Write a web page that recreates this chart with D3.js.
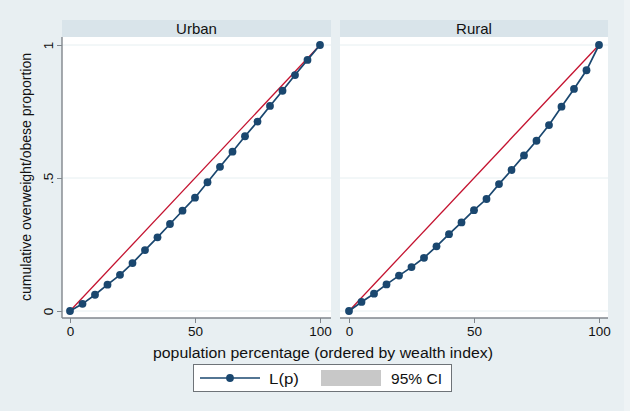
<!DOCTYPE html>
<html>
<head>
<meta charset="utf-8">
<script src="https://cdn.jsdelivr.net/npm/d3@7"></script>
<style>
  html, body { margin: 0; padding: 0; background: #e8eff2; }
  svg { display: block; font-family: "Liberation Sans", Arial, sans-serif; }
</style>
</head>
<body>
<svg id="chart" width="630" height="411"></svg>
<script>
// ---- data ----
const pct = [0, 5, 10, 15, 20, 25, 30, 35, 40, 45, 50, 55, 60, 65, 70, 75, 80, 85, 90, 95, 100];
const urban = [0, 0.027, 0.061, 0.099, 0.136, 0.180, 0.229, 0.277, 0.327, 0.377, 0.426, 0.484, 0.542, 0.599, 0.657, 0.712, 0.771, 0.828, 0.887, 0.944, 1];
const rural = [0, 0.034, 0.065, 0.100, 0.133, 0.165, 0.200, 0.243, 0.289, 0.333, 0.379, 0.421, 0.477, 0.530, 0.585, 0.640, 0.699, 0.768, 0.835, 0.905, 1];
const panels = ["Urban", "Rural"];
const xTicks = [0, 50, 100];
const yTicks = [0, 0.5, 1];
const yTickLabels = ["0", ".5", "1"];
const equality = [[0, 0], [100, 1]];
const legendLabels = ["L(p)", "95% CI"];

const series = { Urban: urban, Rural: rural };

const svg = d3.select("#chart");
const W = 630, H = 411;

const colors = {
  bg: "#e8eff2",
  strip: "#d9e4ea",
  grid: "#e6eff1",
  axis: "#80868c",
  navy: "#1a476f",
  red: "#c4122f",
  text: "#111"
};

svg.append("rect").attr("width", W).attr("height", H).attr("fill", colors.bg);
svg.append("rect").attr("x", 624).attr("y", 0).attr("width", 6).attr("height", H).attr("fill", "#eef3f5");

const panelBoxes = [
  { x0: 62, x1: 331, px0: 70, px1: 320 },
  { x0: 340, x1: 608, px0: 349, px1: 599 }
];
const stripTop = 20, stripBot = 37, plotBot = 318;
const y = d3.scaleLinear().domain([0, 1]).range([311, 45]);

panels.forEach((name, i) => {
  const b = panelBoxes[i];
  const x = d3.scaleLinear().domain([0, 100]).range([b.px0, b.px1]);
  const g = svg.append("g");

  // strip
  g.append("rect").attr("x", b.x0).attr("y", stripTop).attr("width", b.x1 - b.x0)
    .attr("height", stripBot - stripTop).attr("fill", colors.strip);
  g.append("text").attr("x", (b.x0 + b.x1) / 2).attr("y", 33.5).attr("text-anchor", "middle")
    .attr("font-size", 15).attr("fill", colors.text).text(name);

  // plot region
  g.append("rect").attr("x", b.x0).attr("y", stripBot).attr("width", b.x1 - b.x0)
    .attr("height", plotBot - stripBot).attr("fill", "#fff");

  // grid
  g.selectAll("line.grid").data(yTicks).join("line")
    .attr("x1", b.x0).attr("x2", b.x1)
    .attr("y1", d => y(d)).attr("y2", d => y(d))
    .attr("stroke", colors.grid).attr("stroke-width", 1);

  // x axis
  const xAxis = d3.axisBottom(x).tickValues(xTicks).tickSize(5).tickPadding(3).tickSizeOuter(0);
  const xa = g.append("g").attr("transform", `translate(0,${plotBot})`).call(xAxis);
  xa.select(".domain").attr("d", `M${b.x0},0H${b.x1}`).attr("stroke", colors.axis).attr("stroke-width", 1.4);
  xa.selectAll(".tick line").attr("stroke", colors.axis);
  xa.selectAll(".tick text").attr("font-size", 13.5).attr("fill", colors.text)
    .attr("font-family", "Liberation Sans, Arial, sans-serif");

  // y axis (left panel only)
  if (i === 0) {
    const yAxis = d3.axisLeft(y).tickValues(yTicks).tickSize(5).tickSizeOuter(0)
      .tickFormat((d, k) => yTickLabels[k]);
    const ya = g.append("g").attr("transform", `translate(${b.x0},0)`).call(yAxis);
    ya.select(".domain").attr("d", `M0,${stripBot}V${plotBot}`).attr("stroke", colors.axis).attr("stroke-width", 1.4);
    ya.selectAll(".tick line").attr("stroke", colors.axis);
    ya.selectAll(".tick text").attr("font-size", 13.5).attr("fill", colors.text)
      .attr("font-family", "Liberation Sans, Arial, sans-serif")
      .attr("text-anchor", "middle").attr("x", 0).attr("dy", 0)
      .attr("transform", "translate(-9,0) rotate(-90)");
  }

  // equality line
  g.append("path").datum(equality)
    .attr("d", d3.line().x(d => x(d[0])).y(d => y(d[1])))
    .attr("fill", "none").attr("stroke", colors.red).attr("stroke-width", 1.3);

  // Lorenz curve
  const vals = series[name];
  const pts = pct.map((p, k) => [p, vals[k]]);
  g.append("path").datum(pts)
    .attr("d", d3.line().x(d => x(d[0])).y(d => y(d[1])))
    .attr("fill", "none").attr("stroke", colors.navy).attr("stroke-width", 1.7);
  g.selectAll("circle.pt").data(pts).join("circle")
    .attr("cx", d => x(d[0])).attr("cy", d => y(d[1])).attr("r", 3.9)
    .attr("fill", colors.navy);
});

// axis titles
svg.append("text").attr("transform", "translate(31,177) rotate(-90)")
  .attr("text-anchor", "middle").attr("font-size", 15).attr("fill", colors.text)
  .attr("textLength", 248).attr("lengthAdjust", "spacingAndGlyphs")
  .text("cumulative overweight/obese proportion");
svg.append("text").attr("x", 323).attr("y", 358).attr("text-anchor", "middle")
  .attr("font-size", 15.5).attr("fill", colors.text)
  .attr("textLength", 340).attr("lengthAdjust", "spacingAndGlyphs")
  .text("population percentage (ordered by wealth index)");

// legend
const lg = svg.append("g");
lg.append("rect").attr("x", 193.5).attr("y", 364.5).attr("width", 258).attr("height", 27)
  .attr("fill", "#fff").attr("stroke", "#6e7378").attr("stroke-width", 1);
lg.append("line").attr("x1", 200).attr("x2", 260).attr("y1", 378).attr("y2", 378)
  .attr("stroke", colors.navy).attr("stroke-width", 1.7);
lg.append("circle").attr("cx", 230).attr("cy", 378).attr("r", 3.9).attr("fill", colors.navy);
lg.append("text").attr("x", 269).attr("y", 383.5).attr("font-size", 15).attr("fill", colors.text)
  .attr("textLength", 30).attr("lengthAdjust", "spacingAndGlyphs").text(legendLabels[0]);
lg.append("rect").attr("x", 321).attr("y", 370).attr("width", 60).attr("height", 16).attr("fill", "#c8c8c8");
lg.append("text").attr("x", 391).attr("y", 383.5).attr("font-size", 15).attr("fill", colors.text)
  .attr("textLength", 51).attr("lengthAdjust", "spacingAndGlyphs").text(legendLabels[1]);
</script>
</body>
</html>
